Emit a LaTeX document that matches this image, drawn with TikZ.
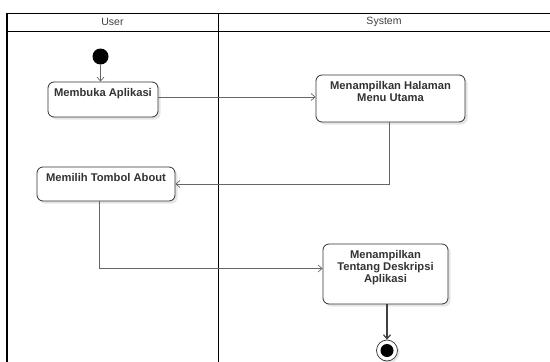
\documentclass[tikz,border=0pt]{standalone}
\usepackage{fontspec}
\setmainfont{Liberation Sans}
\usetikzlibrary{arrows.meta,shadows,positioning}

\tikzset{
  lane/.style={draw=black, line width=0.9pt},
  lanehead/.style={font=\fontsize{10.5}{12}\selectfont, text=black!75, inner sep=0pt},
  action/.style={draw=black!80, line width=0.8pt, rounded corners=6pt, fill=white,
    drop shadow={shadow xshift=2.5pt, shadow yshift=-2.5pt, opacity=0.10, fill=black}},
  actiontext/.style={font=\bfseries\fontsize{11.2}{11.8}\selectfont, text=black!80,
    align=center, inner sep=0pt, anchor=north},
  flow/.style={draw=black!60, line width=0.7pt, -{Straight Barb[length=4pt,width=7pt]}},
  finalflow/.style={draw=black!75, line width=1.2pt, -{Straight Barb[length=4pt,width=7pt]}},
  startdot/.style={circle, fill=black, minimum size=16pt, inner sep=0pt},
  endring/.style={circle, draw=black!80, line width=0.7pt, fill=white, minimum size=21pt, inner sep=0pt,
    drop shadow={shadow xshift=2pt, shadow yshift=-2pt, opacity=0.10, fill=black}},
  enddot/.style={circle, fill=black, minimum size=13pt, inner sep=0pt},
}

\begin{document}
\begin{tikzpicture}[x=1pt, y=-1pt]
\useasboundingbox (0,0) rectangle (550,362);

% swimlane frame
\draw[lane] (7,13) -- (550,13);
\draw[lane] (7,31.5) -- (550,31.5);
\draw[lane] (218,13) -- (218,362);
\draw[draw=black, line width=2pt] (7,12.5) -- (7,362);
\node[lanehead] (userlane) at (112.5,22) {User};
\node[lanehead] (syslane) at (384,22) {System};

% initial node
\node[startdot] (start) at (100.5,56.5) {};

% actions
\node[action, minimum width=110pt, minimum height=35pt] (b1) at (103,99.5) {};
\node[actiontext] (t1) at ([yshift=-6.5pt]b1.north) {Membuka Aplikasi};

\node[action, minimum width=149pt, minimum height=47pt] (b2) at (390.5,98.5) {};
\node[actiontext] (t2) at ([yshift=-6.5pt]b2.north) {Menampilkan Halaman\\Menu Utama};

\node[action, minimum width=138pt, minimum height=34pt] (b3) at (106,184) {};
\node[actiontext] (t3) at ([yshift=-6.5pt]b3.north) {Memilih Tombol About};

\node[action, minimum width=125pt, minimum height=60pt] (b4) at (385.5,274) {};
\node[actiontext] (t4) at ([yshift=-6.5pt]b4.north) {Menampilkan\\Tentang Deskripsi\\Aplikasi};

% final node
\node[endring] (end) at (387,350.5) {};
\node[enddot] (endin) at (end) {};

% control flows
\draw[flow] (start) -- (start |- b1.north);
\draw[flow] ([yshift=2.5pt]b1.east) -- ([yshift=2.5pt]b1.east -| b2.west);
\draw[flow] ([xshift=-1.5pt]b2.south) |- (b3.east);
\draw[flow] ([xshift=-7pt]b3.south) |- ([yshift=5.5pt]b4.west);
\draw[finalflow] ([xshift=1.5pt]b4.south) -- (end.north);
\end{tikzpicture}
\end{document}
